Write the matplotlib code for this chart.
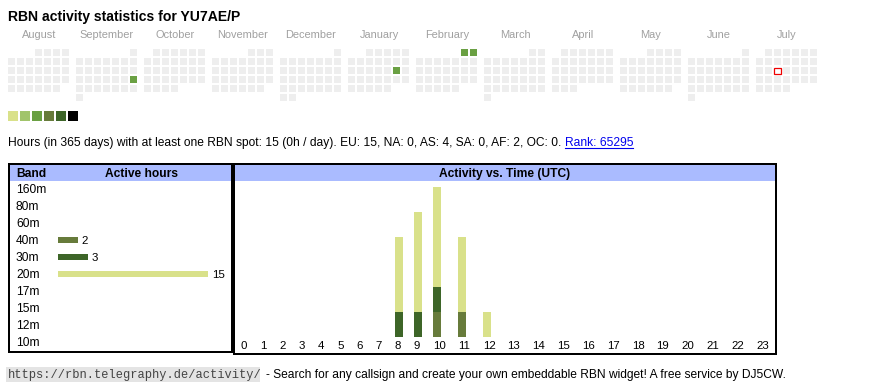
import datetime as dt
import numpy as np
import matplotlib
matplotlib.use("Agg")
from matplotlib import pyplot as plt
from matplotlib.patches import Rectangle

plt.rcParams['font.family'] = ['Liberation Sans', 'DejaVu Sans']

callsign = "YU7AE/P"
months = ["August", "September", "October", "November", "December", "January",
          "February", "March", "April", "May", "June", "July"]
start_year, start_month = 2024, 8
today = dt.date(2025, 7, 16)
active_days = [dt.date(2024, 9, 22), dt.date(2025, 1, 18),
               dt.date(2025, 2, 1), dt.date(2025, 2, 2)]
active_levels = [2, 2, 2, 2]
level_colors = ['#d9e18a', '#a1c46b', '#6aa043', '#677b3b', '#3d6528', '#000000']

total_hours = 15
per_day = 0
continents = ["EU", "NA", "AS", "SA", "AF", "OC"]
cont_hours = [15, 0, 4, 0, 2, 0]
rank = 65295

bands = ["160m", "80m", "60m", "40m", "30m", "20m", "17m", "15m", "12m", "10m"]
band_hours = [0, 0, 0, 2, 3, 15, 0, 0, 0, 0]
band_colors = {"40m": '#677b3b', "30m": '#3d6528', "20m": '#d9e18a'}

hour_labels = [str(h) for h in range(24)]
act_40m = [0, 0, 0, 0, 0, 0, 0, 0, 0, 0, 1, 1, 0, 0, 0, 0, 0, 0, 0, 0, 0, 0, 0, 0]
act_30m = [0, 0, 0, 0, 0, 0, 0, 0, 1, 1, 1, 0, 0, 0, 0, 0, 0, 0, 0, 0, 0, 0, 0, 0]
act_20m = [0, 0, 0, 0, 0, 0, 0, 0, 3, 4, 4, 3, 1, 0, 0, 0, 0, 0, 0, 0, 0, 0, 0, 0]

W, H = 870, 390
fig = plt.figure(figsize=(W / 100, H / 100), dpi=100)
bg = fig.add_axes([0, 0, 1, 1])
bg.set_xlim(0, W)
bg.set_ylim(H, 0)
bg.axis('off')


def pt(px):
    return px * 0.72


def px_axes(x0, y0, x1, y1):
    a = fig.add_axes([x0 / W, 1 - y1 / H, (x1 - x0) / W, (y1 - y0) / H])
    a.patch.set_alpha(0)
    for s in a.spines.values():
        s.set_visible(False)
    return a


def right_edge(t):
    fig.canvas.draw()
    bb = t.get_window_extent()
    return bg.transData.inverted().transform((bb.x1, bb.y0))[0]


bg.text(8, 21, f"RBN activity statistics for {callsign}", fontsize=pt(14),
        fontweight='bold', va='baseline')

# calendar
lvl = dict(zip(active_days, active_levels))
for m, name in enumerate(months):
    year = start_year + (start_month - 1 + m) // 12
    month = (start_month - 1 + m) % 12 + 1
    x0 = 8 + m * 68
    bg.text(x0 + 31, 38.5, name, ha='center', va='baseline', fontsize=pt(11),
            color='#a0a0a0')
    first = dt.date(year, month, 1)
    d = first
    while d.month == month:
        row = (d.day - 1 + first.weekday()) // 7
        x, y = x0 + d.weekday() * 9, 49 + row * 9
        if d == today:
            bg.add_patch(Rectangle((x + 0.5, y + 0.5), 6.3, 6.3, fc='white',
                                   ec='#ee0000', lw=0.9))
        else:
            c = level_colors[lvl[d]] if d in lvl else '#eeeeee'
            bg.add_patch(Rectangle((x, y), 7.3, 7.3, fc=c, ec='none'))
        d += dt.timedelta(days=1)

for i, c in enumerate(level_colors):
    bg.add_patch(Rectangle((8 + i * 12, 111), 9.6, 9.6, fc=c, ec='none'))

cont = ", ".join(f"{c}: {v}" for c, v in zip(continents, cont_hours))
t = bg.text(8, 146, f"Hours (in 365 days) with at least one RBN spot: {total_hours} "
            f"({per_day}h / day). {cont}.", fontsize=pt(12), va='baseline')
xr = right_edge(t) + 3.3
rt = bg.text(xr, 146, f"Rank: {rank}", fontsize=pt(12), va='baseline', color='#0000ee')
bg.plot([xr, right_edge(rt)], [147.5, 147.5], color='#0000ee', lw=0.8)

# band table
bg.add_patch(Rectangle((10, 165), 221, 16, fc='#aabbff', ec='none'))
bg.add_patch(Rectangle((9.3, 164), 222.4, 187.7, fill=False, ec='black', lw=1.44))
bg.text(16, 177.3, "Band", fontsize=pt(12), fontweight='bold', va='baseline')
bg.text(141.5, 177.3, "Active hours", fontsize=pt(12), fontweight='bold',
        va='baseline', ha='center')

ax_b = px_axes(58, 180.5, 208, 350.5)
ax_b.set_xlim(0, 15)
ax_b.set_ylim(len(bands) - 0.5, -0.5)
ax_b.set_xticks([])
ax_b.set_yticks([])
for i, (b, v) in enumerate(zip(bands, band_hours)):
    bg.text(16, 193.3 + 17 * i, b, fontsize=pt(12), va='baseline')
    if v:
        ax_b.barh(i, v, height=0.39, color=band_colors[b])
        ax_b.text(v + 0.37, i + 0.25, str(v), fontsize=pt(11.5), va='baseline')

# activity vs time table
bg.add_patch(Rectangle((235, 165), 540, 16, fc='#aabbff', ec='none'))
bg.add_patch(Rectangle((234, 164), 541.7, 190.3, fill=False, ec='black', lw=1.44))
bg.text(505, 177.3, "Activity vs. Time (UTC)", fontsize=pt(12), fontweight='bold',
        va='baseline', ha='center')

ax_a = px_axes(235, 181, 775, 337)
ax_a.set_xlim(235, 775)
ax_a.set_ylim(0, 156 / 25)
cell_w = [19.2 if len(l) == 1 else 24.85 for l in hour_labels]
lefts = 241 + np.concatenate([[0], np.cumsum(cell_w)[:-1]])
bottom = np.zeros(24)
for name, vals in [("40m", act_40m), ("30m", act_30m), ("20m", act_20m)]:
    ax_a.bar(lefts, vals, width=8.3, bottom=bottom, align='edge',
             color=band_colors[name])
    bottom += np.array(vals)
ax_a.set_yticks([])
ax_a.set_xticks(lefts, hour_labels, fontsize=pt(11.5))
for lab in ax_a.get_xticklabels():
    lab.set_ha('left')
ax_a.tick_params(axis='x', length=0, pad=3.2)

# footer
bg.add_patch(Rectangle((6, 367), 254, 15, fc='#e4e4e4', ec='none'))
ft = bg.text(8, 378, "https://rbn.telegraphy.de/activity/", fontsize=pt(12),
             family='Liberation Mono', color='#444444', va='baseline')
bg.text(right_edge(ft) + 4, 378, "- Search for any callsign and create your own "
        "embeddable RBN widget! A free service by DJ5CW.", fontsize=pt(12),
        va='baseline')

fig.savefig("out.png", dpi=100)
